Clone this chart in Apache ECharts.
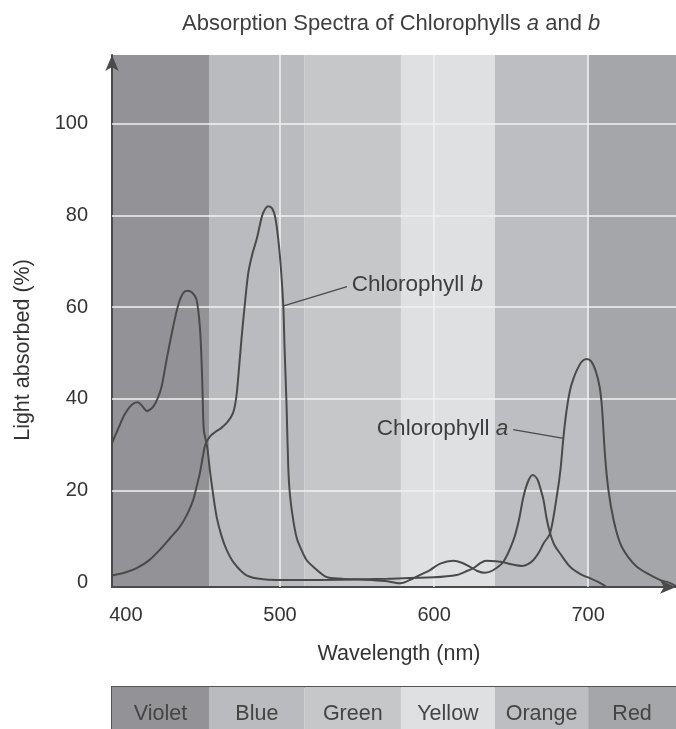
<!DOCTYPE html>
<html>
<head>
<meta charset="utf-8">
<script src="https://cdn.jsdelivr.net/npm/echarts@6/dist/echarts.min.js"></script>
<style>
html, body { margin: 0; padding: 0; background: #fff; }
#chart { width: 676px; height: 729px; }
</style>
</head>
<body>
<div id="chart"></div>
<script>
// values: wavelength (nm) and light absorbed (%)
var chlAWave  = [391, 395, 399, 403.7, 407.8, 410.5, 413.6, 417.7, 420.5, 423.2, 426.4, 430.7, 434, 437, 440, 443, 445.9, 448, 449.1, 449.8, 450.6, 452.8, 454.5, 456.5, 458.9, 462, 465.4, 470, 478, 489, 510, 540, 570, 600, 614.7, 620, 625.5, 630, 634, 640, 645, 651, 657, 661, 664.5, 668, 671, 675.3, 679.6, 682, 684, 686, 688.3, 690.5, 693, 696, 699, 702, 705, 707.5, 709, 711, 713.2, 716.5, 720.8, 726, 731.6, 738, 746.8, 752, 757];
var chlAValue = [30.4, 33.5, 36.5, 38.7, 39.3, 38.5, 37.4, 38.3, 40, 42.7, 48.5, 55.8, 60.5, 63, 63.6, 63.2, 61.6, 55.8, 48.5, 41, 33.2, 29.5, 24.5, 19.5, 14.3, 10.2, 7.1, 4.3, 1.6, 0.7, 0.5, 0.6, 0.8, 1.1, 1.6, 2.3, 3.1, 4.2, 4.7, 4.6, 4.4, 3.9, 3.6, 4.0, 4.9, 6.5, 8.5, 10.7, 18.7, 24.5, 31.8, 37.5, 42, 44.5, 46.5, 48.2, 48.7, 48.2, 46, 42.5, 38, 27.4, 20, 13.6, 8.5, 5.5, 3.4, 2, 0.5, 0, -0.8];

var chlBWave  = [391, 400, 407, 415, 422, 429, 435, 440, 443.7, 446, 448, 450, 451.5, 454.5, 458, 462, 466, 469.5, 471.5, 473, 475, 477, 479.4, 482, 485, 487, 489, 492.4, 495, 497, 499, 500.5, 502.2, 503, 504.3, 505.4, 506.5, 508.6, 511, 513, 517, 521.6, 530, 540, 555, 568, 578, 586.6, 592, 597.4, 604, 612.5, 618, 623.4, 628, 633, 638, 645, 651.5, 655, 658, 661, 664, 667, 669, 671, 673, 675.3, 678, 681.8, 688.3, 695, 701.3, 707, 712];
var chlBValue = [1.5, 2.2, 3.1, 4.8, 7.1, 9.8, 12.1, 15, 18, 21, 23.8, 27.5, 30, 31.8, 32.8, 33.7, 35, 36.9, 40, 45, 53, 60, 67.4, 71.5, 75, 78, 80.5, 82, 81.5, 79.5, 74.5, 69, 60, 51, 38.3, 25, 19, 13.6, 9.5, 7.8, 5, 3.4, 1.2, 0.8, 0.6, 0.3, -0.2, 0.9, 1.8, 2.7, 4.1, 4.7, 4.3, 3.4, 2.5, 2.1, 2.6, 4.5, 9.2, 13.5, 18.7, 22, 23.4, 22.5, 20.5, 18, 14, 10.7, 8.2, 6.3, 3.4, 1.8, 0.9, 0, -1];

var bandNames  = ['Violet', 'Blue', 'Green', 'Yellow', 'Orange', 'Red'];
var bandEdges  = [391, 454, 516, 578.5, 639.5, 700, 757];
var bandColors = ['#939397', '#babbbe', '#c6c7c9', '#dfe0e2', '#bdbec1', '#a5a6a9'];

var xTicks = [400, 500, 600, 700];
var yTicks = [0, 20, 40, 60, 80, 100];

var ink = '#4a4a4a';
var font = 'Liberation Sans';

function pairs(xs, ys) {
    return xs.map(function (x, i) { return [x, ys[i]]; });
}

function bandAreas(withLabel) {
    return bandNames.map(function (name, i) {
        return [
            { xAxis: bandEdges[i], name: withLabel ? name : '', itemStyle: { color: bandColors[i] } },
            { xAxis: bandEdges[i + 1] }
        ];
    });
}

function richLabel(size) {
    return {
        n: { fontFamily: font, fontSize: size, fontWeight: 'normal', color: '#3e3e3e' },
        i: { fontFamily: font, fontSize: size, fontWeight: 'normal', color: '#3e3e3e', fontStyle: 'italic' }
    };
}

var chart = echarts.init(document.getElementById('chart'));

var option = {
    animation: false,
    title: {
        text: '{n|Absorption Spectra of Chlorophylls }{i|a}{n| and }{i|b}',
        left: 177,
        top: 8,
        textStyle: { fontWeight: 'normal', rich: richLabel(22) }
    },
    grid: [
        { left: 112, right: 0, top: 55, bottom: 142 },
        { left: 112, right: 0, top: 687, height: 52 }
    ],
    xAxis: [
        {
            gridIndex: 0,
            type: 'value',
            min: 391,
            max: 757,
            name: 'Wavelength (nm)',
            nameLocation: 'middle',
            nameGap: 56,
            nameTextStyle: { fontFamily: font, fontSize: 21.5, color: '#333', padding: [0, 0, 0, 10] },
            axisLine: {
                show: true,
                onZero: false,
                lineStyle: { color: ink, width: 2 },
                symbol: ['none', 'arrow'],
                symbolSize: [10, 16]
            },
            axisTick: { show: false },
            splitLine: { show: false },
            axisLabel: {
                customValues: xTicks,
                margin: 18,
                fontFamily: font,
                fontSize: 20,
                color: '#333'
            }
        },
        {
            gridIndex: 1,
            type: 'value',
            min: 391,
            max: 757,
            position: 'top',
            axisLine: { show: true, onZero: false, lineStyle: { color: '#555', width: 2 } },
            axisTick: { show: false },
            axisLabel: { show: false },
            splitLine: { show: false }
        }
    ],
    yAxis: [
        {
            gridIndex: 0,
            type: 'value',
            min: -1,
            max: 115,
            name: 'Light absorbed (%)',
            nameLocation: 'middle',
            nameGap: 78,
            nameTextStyle: { fontFamily: font, fontSize: 21.5, color: '#333', padding: [0, 58, 0, 0] },
            axisLine: {
                show: true,
                onZero: false,
                lineStyle: { color: ink, width: 2 },
                symbol: ['none', 'arrow'],
                symbolSize: [10, 16]
            },
            axisTick: { show: false },
            splitLine: { show: false },
            axisLabel: {
                customValues: yTicks,
                margin: 24,
                fontFamily: font,
                fontSize: 20,
                color: '#333'
            }
        },
        {
            gridIndex: 1,
            type: 'value',
            min: 0,
            max: 1,
            axisLine: { show: true, onZero: false, lineStyle: { color: '#555', width: 2 } },
            axisTick: { show: false },
            axisLabel: { show: false },
            splitLine: { show: false }
        }
    ],
    series: [
        {
            // colour bands behind the plot plus white grid lines
            name: 'bands',
            type: 'line',
            xAxisIndex: 0,
            yAxisIndex: 0,
            data: [],
            silent: true,
            z: 1,
            markArea: {
                silent: true,
                z: 0,
                label: { show: false },
                data: bandAreas(false)
            },
            markLine: {
                silent: true,
                z: 1,
                symbol: ['none', 'none'],
                label: { show: false },
                lineStyle: { color: '#f2f2f2', width: 1.5, type: 'solid' },
                data: xTicks.slice(1).map(function (v) { return { xAxis: v }; })
                    .concat(yTicks.slice(1).map(function (v) { return { yAxis: v }; }))
            }
        },
        {
            // colour key under the chart
            name: 'key',
            type: 'line',
            xAxisIndex: 1,
            yAxisIndex: 1,
            data: [],
            silent: true,
            markArea: {
                silent: true,
                label: {
                    show: true,
                    position: 'inside',
                    offset: [0, 6],
                    fontFamily: font,
                    fontSize: 21.5,
                    color: '#444'
                },
                data: bandAreas(true)
            }
        },
        {
            name: 'Chlorophyll a',
            type: 'line',
            xAxisIndex: 0,
            yAxisIndex: 0,
            data: pairs(chlAWave, chlAValue),
            smooth: 0.3,
            showSymbol: false,
            symbol: 'none',
            z: 3,
            lineStyle: { color: ink, width: 2 },
            markLine: {
                silent: true,
                z: 4,
                symbol: ['none', 'none'],
                lineStyle: { color: ink, width: 1.3, type: 'solid' },
                label: {
                    show: true,
                    position: 'start',
                    distance: 5,
                    formatter: '{n|Chlorophyll }{i|a}',
                    rich: richLabel(22.5)
                },
                data: [[{ coord: [651.3, 33.3] }, { coord: [684, 31.4] }]]
            }
        },
        {
            name: 'Chlorophyll b',
            type: 'line',
            xAxisIndex: 0,
            yAxisIndex: 0,
            data: pairs(chlBWave, chlBValue),
            smooth: 0.3,
            showSymbol: false,
            symbol: 'none',
            z: 3,
            lineStyle: { color: ink, width: 2 },
            markLine: {
                silent: true,
                z: 4,
                symbol: ['none', 'none'],
                lineStyle: { color: ink, width: 1.3, type: 'solid' },
                label: {
                    show: true,
                    position: 'end',
                    distance: 5,
                    formatter: '{n|Chlorophyll }{i|b}',
                    rich: richLabel(22.5)
                },
                data: [[{ coord: [502.4, 60.3] }, { coord: [543.5, 64.5] }]]
            }
        }
    ]
};

chart.setOption(option);
</script>
</body>
</html>
